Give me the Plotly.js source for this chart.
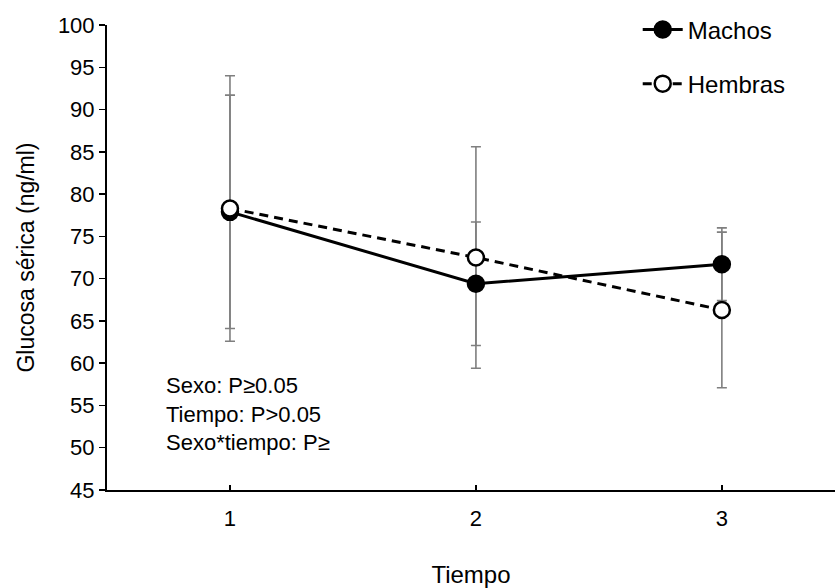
<!DOCTYPE html>
<html>
<head>
<meta charset="utf-8">
<script src="https://cdn.plot.ly/plotly-3.0.1.min.js"></script>
<style>html,body{margin:0;padding:0;background:#fff;}#chart{width:835px;height:588px;}</style>
</head>
<body>
<div id="chart"></div>
<script>
const tiempo = [1, 2, 3];
const tickLabels = ["1", "2", "3"];
const machos = [77.9, 69.4, 71.7];
const machosErr = [13.8, 7.3, 4.3];
const hembras = [78.3, 72.5, 66.3];
const hembrasErr = [15.7, 13.1, 9.2];
const statsLines = ["Sexo: P≥0.05", "Tiempo: P>0.05", "Sexo*tiempo: P≥"];

const FONT = "Liberation Sans, Arial, sans-serif";
const errStyle = (arr) => ({type: 'data', array: arr, visible: true, color: '#7f7f7f', thickness: 1.6, width: 5});

const traces = [
  {x: tiempo, y: machos, error_y: errStyle(machosErr), mode: 'markers', marker: {size: 1, opacity: 0},
   showlegend: false, hoverinfo: 'skip'},
  {x: tiempo, y: hembras, error_y: errStyle(hembrasErr), mode: 'markers', marker: {size: 1, opacity: 0},
   showlegend: false, hoverinfo: 'skip'},
  {x: tiempo, y: machos, name: 'Machos', mode: 'lines+markers', legendgroup: 'm',
   line: {color: '#000', width: 3},
   marker: {symbol: 'circle', size: 16, color: '#000', line: {color: '#000', width: 2.5}}},
  {x: tiempo, y: hembras, name: 'Hembras', mode: 'lines+markers', legendgroup: 'h',
   line: {color: '#000', width: 3, dash: '9px,6px'},
   marker: {symbol: 'circle', size: 16, color: '#fff', line: {color: '#000', width: 2.5}}}
];

const layout = {
  width: 835, height: 588,
  margin: {l: 107, r: 0, t: 25, b: 98},
  paper_bgcolor: '#fff', plot_bgcolor: '#fff',
  font: {family: FONT, size: 22, color: '#000'},
  showlegend: true,
  legend: {x: 0.729, y: 1.038, xanchor: 'left', yanchor: 'top', bgcolor: 'rgba(0,0,0,0)',
           font: {family: FONT, size: 24, color: '#000'}, tracegroupgap: 20, itemwidth: 40},
  xaxis: {
    range: [0.5, 3.46], tickvals: tiempo, ticktext: tickLabels,
    showline: true, linecolor: '#000', linewidth: 2, ticks: 'inside', ticklen: 5, tickwidth: 1.5, tickcolor: '#000',
    showgrid: false, zeroline: false, tickfont: {size: 22}, ticklabelstandoff: 8,
    title: {text: 'Tiempo', standoff: 40, font: {size: 24}}
  },
  yaxis: {
    range: [45, 100], tickvals: [45,50,55,60,65,70,75,80,85,90,95,100],
    showline: true, linecolor: '#000', linewidth: 2, ticks: 'outside', ticklen: 6, tickwidth: 1.5, tickcolor: '#000',
    showgrid: false, zeroline: false, tickfont: {size: 22},
    title: {text: 'Glucosa sérica (ng/ml)', standoff: 17, font: {size: 23}}
  },
  annotations: [{
    xref: 'paper', yref: 'paper', x: 0.078, y: 0.163, xanchor: 'left', yanchor: 'middle', align: 'left',
    showarrow: false, text: statsLines.join('<br>'), font: {family: FONT, size: 22, color: '#000'}
  }]
};

Plotly.newPlot('chart', traces, layout, {displayModeBar: false, staticPlot: true});
</script>
</body>
</html>
